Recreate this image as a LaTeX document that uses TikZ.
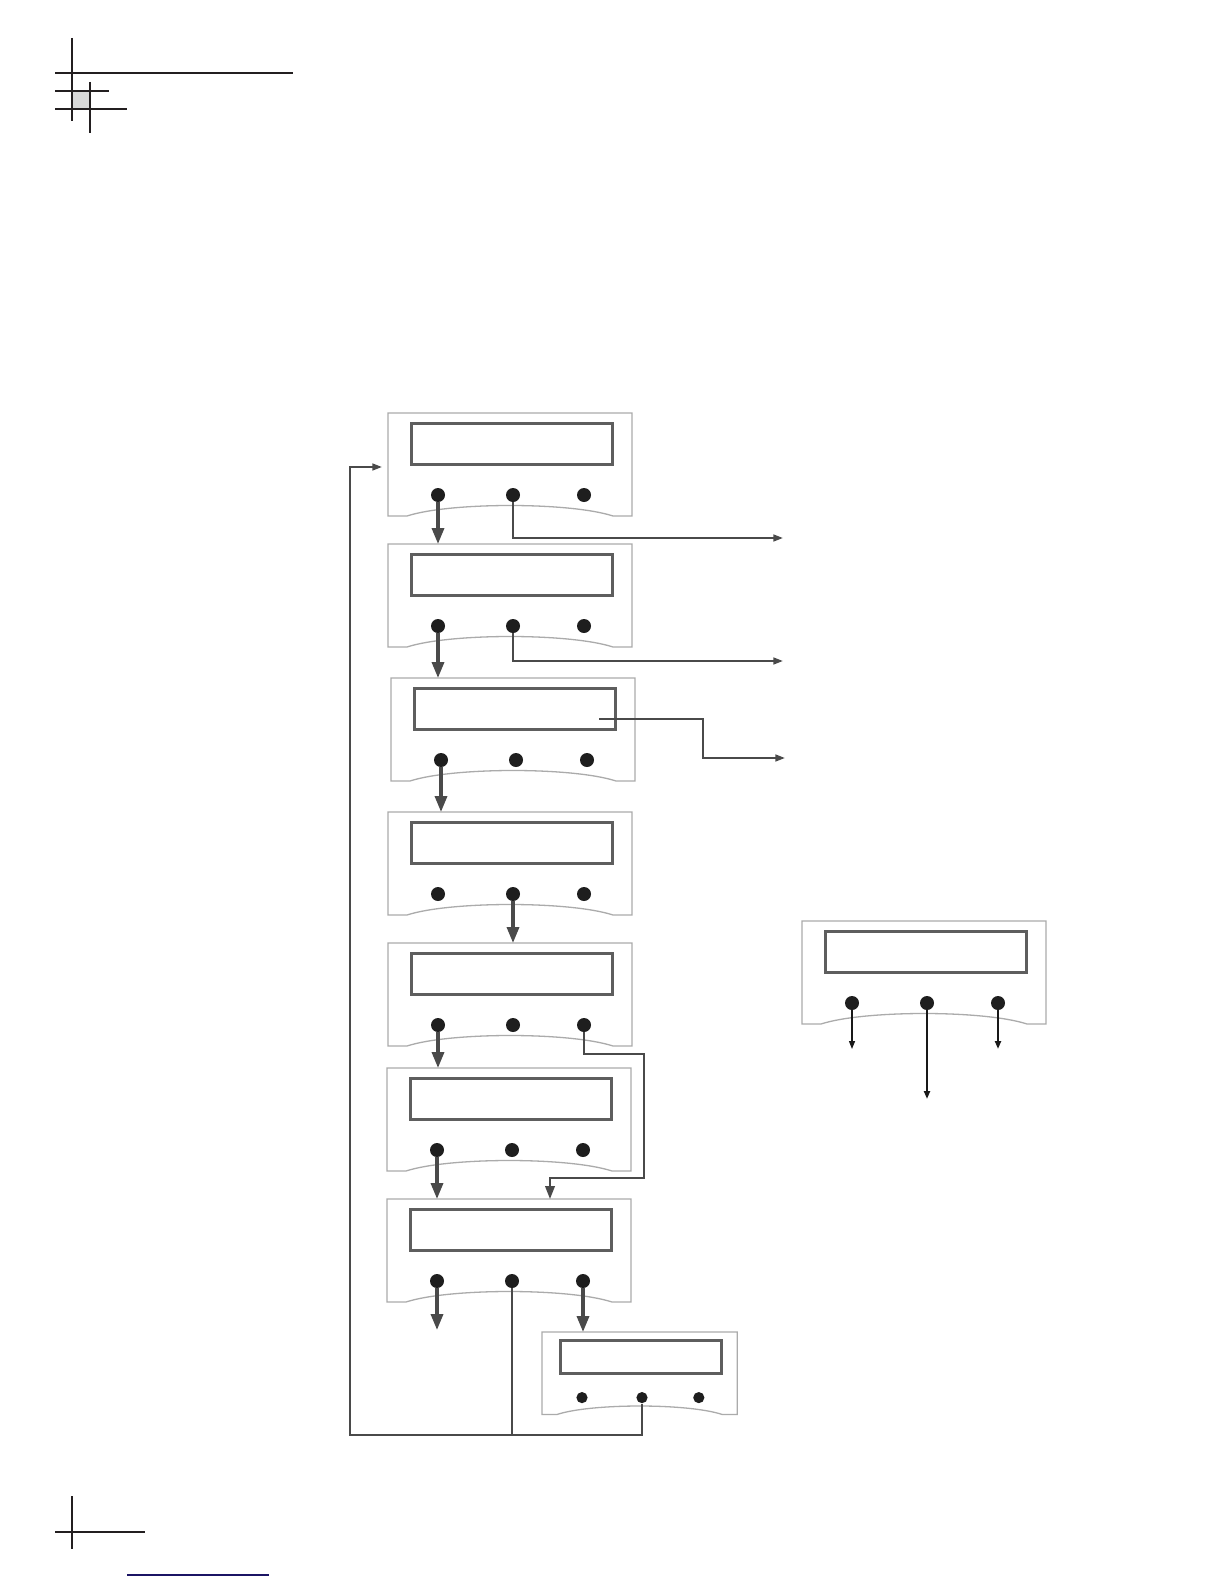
\documentclass[tikz,border=0pt]{standalone}
\usetikzlibrary{arrows.meta}
\definecolor{panelgray}{HTML}{ABABAB}
\definecolor{displaygray}{HTML}{5E5E5E}
\definecolor{arrowgray}{HTML}{4A4A4A}
\definecolor{btnblack}{HTML}{1E1E1E}
\definecolor{cropblack}{HTML}{231F20}
\definecolor{linkblue}{HTML}{1B1464}
\tikzset{
  panelline/.style={draw=panelgray, line width=0.65pt, fill=white},
  display/.style={draw=displaygray, line width=1.6pt, rectangle, inner sep=0pt,
                  minimum width=100.5pt, minimum height=20.5pt},
  btn/.style={circle, fill=btnblack, draw=none, inner sep=0pt, minimum size=7pt},
  thickarrow/.style={draw=arrowgray, line width=1.7pt, -{Triangle[length=8pt,width=6pt]}},
  conn/.style={draw=arrowgray, line width=1pt},
  connarrow/.style={conn, -{Triangle[length=4.8pt,width=3.4pt]}},
  medarrow/.style={conn, -{Triangle[length=6.5pt,width=4.8pt]}},
  thinarrow/.style={draw=black!90, line width=0.65pt, -{Triangle[length=4pt,width=3pt]}},
  thinarrowb/.style={draw=black!90, line width=1.05pt, -{Triangle[length=4pt,width=3pt]}},
  crop/.style={draw=cropblack, line width=0.65pt},
  panel/.pic={
    \draw[panelline] (0,0) -- (244,0) -- (244,103) -- (225,103)
        .. controls (182,89) and (62,89) .. (19,103) -- (0,103) -- cycle;
    \node[display] (-disp) at (124,31) {};
    \node[btn] (-b1) at (50,82) {};
    \node[btn] (-b2) at (125,82) {};
    \node[btn] (-b3) at (196,82) {};
    \coordinate (-top) at (122,0);
  }
}
\begin{document}
\begin{tikzpicture}[x=0.5pt,y=-0.5pt]
\useasboundingbox (0,0) rectangle (1224,1584);
% crop marks
\fill[black!15] (72,91) rectangle (90,109);
\draw[crop] (72,38) -- (72,121);
\draw[crop] (55,73) -- (293,73);
\draw[crop] (55,91) -- (109,91);
\draw[crop] (55,109) -- (127,109);
\draw[crop] (90,82) -- (90,133);
\draw[crop] (72,1496) -- (72,1549);
\draw[crop] (55,1532) -- (145,1532);
\draw[draw=linkblue, line width=0.65pt] (127,1575) -- (269,1575);

% panels
\pic (p1) at (388,413) {panel};
\pic (p2) at (388,544) {panel};
\pic (p3) at (391,678) {panel};
\pic (p4) at (388,812) {panel};
\pic (p5) at (388,943) {panel};
\pic (p6) at (387,1068) {panel};
\pic (p7) at (387,1199) {panel};
\pic[scale=0.8, transform shape] (p8) at (542,1332) {panel};
\pic (pr) at (802,921) {panel};

% named free ends and bends
\coordinate (loopbot) at (350,1435);
\coordinate (loopin) at (382,467);
\coordinate (out1) at (783,538);
\coordinate (out2) at (783,661);
\coordinate (d3) at (599,719);
\coordinate (bend3) at (703,738);
\coordinate (out3) at (785,758);
\coordinate (r5a) at (644,1054);
\coordinate (r5b) at (550,1178);
\coordinate (free7) at (437,1330);
\coordinate (rfree1) at (852,1049);
\coordinate (rfree2) at (927,1099);
\coordinate (rfree3) at (998,1049);

% main column arrows
\draw[thickarrow] (p1-b1.south) -- (p1-b1.south |- p2-top);
\draw[thickarrow] (p2-b1.south) -- (p2-b1.south |- p3-top);
\draw[thickarrow] (p3-b1.south) -- (p3-b1.south |- p4-top);
\draw[thickarrow] (p4-b2.south) -- (p4-b2.south |- p5-top);
\draw[thickarrow] (p5-b1.south) -- (p5-b1.south |- p6-top);
\draw[thickarrow] (p6-b1.south) -- (p6-b1.south |- p7-top);
\draw[thickarrow] (p7-b1.south) -- (p7-b1.south |- free7);
\draw[thickarrow] (p7-b3.south) -- (p7-b3.south |- p8-top);

% side connectors
\draw[connarrow] (p1-b2.south) |- (out1);
\draw[connarrow] (p2-b2.south) |- (out2);
\draw[connarrow] (d3) -| (bend3) |- (out3);
\draw[medarrow] (p5-b3.south) |- (r5a) |- (r5b) -- (r5b |- p7-top);

% return loop
\draw[connarrow] (p8-b2.south) |- (loopbot) |- (loopin);
\draw[conn] (p7-b2.south) -- (p7-b2.south |- loopbot);

% right panel arrows
\draw[thinarrow] (pr-b1.south) -- (pr-b1.south |- rfree1);
\draw[thinarrowb] (pr-b2.south) -- (pr-b2.south |- rfree2);
\draw[thinarrowb] (pr-b3.south) -- (pr-b3.south |- rfree3);
\end{tikzpicture}
\end{document}
